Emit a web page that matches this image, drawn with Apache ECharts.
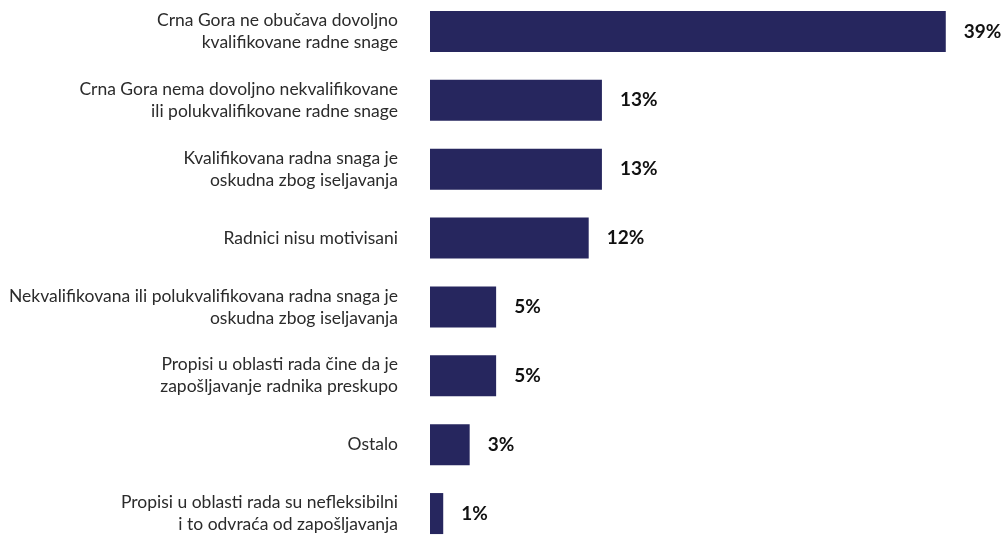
<!DOCTYPE html>
<html><head><meta charset="utf-8">
<script src="https://cdn.jsdelivr.net/npm/echarts@6/dist/echarts.min.js"></script>
<style>html,body{margin:0;padding:0;background:#fff}#c{width:1003px;height:536px}</style>
</head><body><div id="c"></div>
<script>
const categories = [
  "Crna Gora ne obučava dovoljno\nkvalifikovane radne snage",
  "Crna Gora nema dovoljno nekvalifikovane\nili polukvalifikovane radne snage",
  "Kvalifikovana radna snaga je\noskudna zbog iseljavanja",
  "Radnici nisu motivisani",
  "Nekvalifikovana ili polukvalifikovana radna snaga je\noskudna zbog iseljavanja",
  "Propisi u oblasti rada čine da je\nzapošljavanje radnika preskupo",
  "Ostalo",
  "Propisi u oblasti rada su nefleksibilni\ni to odvraća od zapošljavanja"
];
const values = [39, 13, 13, 12, 5, 5, 3, 1];

const chart = echarts.init(document.getElementById('c'), null, {renderer:'canvas'});
chart.setOption({
  animation: false,
  backgroundColor: '#ffffff',
  grid: {left: 430, top: -3, width: 529, bottom: -12, containLabel: false, outerBoundsMode: 'none'},
  xAxis: {type: 'value', min: 0, max: 40, show: false},
  yAxis: {
    type: 'category', data: categories, inverse: true,
    axisLine: {show: false}, axisTick: {show: false}, splitLine: {show: false},
    axisLabel: {
      margin: 32, align: 'right', color: '#2b2b2b',
      fontFamily: 'Lato', fontSize: 17.5, lineHeight: 22
    }
  },
  series: [{
    type: 'bar', data: values, barWidth: 41,
    itemStyle: {color: '#26265e'},
    label: {
      show: true, position: 'right', distance: 18,
      formatter: p => p.value + '%',
      color: '#111', fontFamily: 'Lato', fontWeight: 'bold', fontSize: 19
    }
  }]
});
</script></body></html>
